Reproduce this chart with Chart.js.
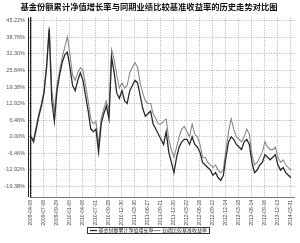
<!DOCTYPE html>
<html>
<head>
<meta charset="utf-8">
<script src="https://cdn.jsdelivr.net/npm/chart.js@4"></script>
<style>
  html, body { margin: 0; padding: 0; background: #fff; }
  #wrap { width: 300px; height: 243px; }
</style>
</head>
<body>
<div id="wrap"><canvas id="myChart" width="300" height="243"></canvas></div>
<script>
// 标题与图例
const chartTitle = '基金份额累计净值增长率与同期业绩比较基准收益率的历史走势对比图';
const fundName = '基金份额累计净值增长率';
const benchName = '业绩比较基准收益率';

// X轴刻度日期（每5个数据点一个）
const tickDates = ['2009-04-09', '2009-07-06', '2009-09-29', '2010-01-05', '2010-04-06',
  '2010-07-01', '2010-09-28', '2010-12-30', '2011-03-30', '2011-06-27', '2011-09-21',
  '2011-12-20', '2012-03-22', '2012-06-18', '2012-09-12', '2012-12-14', '2013-03-18',
  '2013-06-14', '2013-09-16', '2013-12-13', '2014-03-31'];

// Y轴刻度 (%)
const yTicks = [-19.38, -12.92, -6.46, 0.00, 6.46, 12.92, 19.38, 25.84, 32.30, 38.76, 45.22];

// 基金份额累计净值增长率 (%)
const fundValues = [0, -2, 3, 8, 12, 17, 27, 42, 14, 6,
  18, 24, 29, 32, 33, 27, 20, 18, 22, 25,
  22, 16, 10, 3, 2, 3, -6, 5, 9, 12,
  7, 31, 25, 17, 15, 18, 14, 13, 18, 20,
  22, 21, 16, 11, 8, 9, 10, 5, 3, 1,
  -1, -3, 2, -6, -10, -14, -8, -4, -2, -1,
  -1, -3, 0, -3, -4, -6, -10, -11, -12, -13,
  -15, -14, -16, -17, -15, -8, -2, 0, -1, -3,
  -4, -5, -2, -1, -3, -10, -14, -13, -11, -10,
  -7, -8, -9, -8, -7, -11, -13, -12, -14, -15, -16];

// 业绩比较基准收益率 (%)
const benchValues = [0, -1, 4, 9, 13, 18, 28, 43, 18, 10,
  20, 26, 31, 35, 39, 32, 24, 22, 25, 27,
  26, 20, 14, 7, 5, 6, -3, 7, 11, 14,
  10, 34, 30, 24, 19, 21, 19, 20, 25, 27,
  29, 27, 21, 17, 14, 13, 13, 9, 7, 5,
  5, 6, 7, -1, -5, -8, -4, 0, 3, 4,
  2, 0, 5, 1, 0, -3, -8, -8, -10, -11,
  -12, -11, -13, -14, -13, -5, 2, 7, 3, 0,
  -1, -2, 0, 3, 1, -7, -11, -10, -8, -6,
  -2, -4, -5, -5, -4, -8, -10, -9, -11, -12, -13];

const toPoints = arr => arr.map((v, i) => ({ x: i, y: v }));

// 图例外框 + 左侧双线
const extras = {
  id: 'extras',
  afterDraw(chart) {
    const c = chart.ctx;
    const area = chart.chartArea;
    c.save();
    c.strokeStyle = '#222';
    c.lineWidth = 1;
    c.beginPath();
    c.moveTo(Math.round(area.left) - 2.5, area.top);
    c.lineTo(Math.round(area.left) - 2.5, area.bottom);
    c.stroke();
    const lg = chart.legend;
    if (lg && lg.legendHitBoxes.length) {
      const boxes = lg.legendHitBoxes;
      const x0 = boxes[0].left - 4;
      const last = boxes[boxes.length - 1];
      const x1 = last.left + last.width + 2;
      const y0 = boxes[0].top - 1;
      c.strokeStyle = '#333';
      c.strokeRect(Math.round(x0) + 0.5, Math.round(y0) + 0.5, Math.round(x1 - x0), Math.round(boxes[0].height + 1));
    }
    c.restore();
  }
};

const ctx = document.getElementById('myChart');
new Chart(ctx, {
  type: 'line',
  data: {
    datasets: [{
      label: fundName,
      data: toPoints(fundValues),
      borderColor: '#2a2a2a',
      borderWidth: 1.3,
      pointRadius: 0,
      tension: 0
    }, {
      label: benchName,
      data: toPoints(benchValues),
      borderColor: '#8a8a8a',
      borderWidth: 1.1,
      pointRadius: 0,
      tension: 0
    }]
  },
  options: {
    responsive: false,
    animation: false,
    layout: { padding: { left: 2, right: 4, top: 0, bottom: 0 } },
    plugins: {
      title: {
        display: true,
        text: chartTitle,
        color: '#111',
        font: { family: '"Noto Sans CJK SC"', size: 8.3, weight: 'bold' },
        padding: { top: 2, bottom: 5.6 }
      },
      legend: {
        position: 'bottom',
        labels: {
          color: '#222',
          font: { family: '"Noto Sans CJK SC"', size: 5 },
          usePointStyle: true,
          pointStyle: 'line',
          boxWidth: 12,
          padding: 1
        }
      },
      tooltip: { enabled: false }
    },
    scales: {
      x: {
        type: 'linear',
        min: 0,
        max: 101.5,
        afterBuildTicks: scale => {
          scale.ticks = tickDates.map((d, i) => ({ value: i * 5 }));
        },
        afterFit: scale => { scale.height = 30; },
        ticks: {
          autoSkip: false,
          minRotation: 90,
          maxRotation: 90,
          padding: 3,
          color: '#444',
          font: { family: 'Arial, "Liberation Sans"', size: 5 },
          callback: v => tickDates[Math.round(v / 5)]
        },
        grid: {
          color: '#9a9a9a',
          lineWidth: 0.8,
          drawTicks: false
        },
        border: { display: true, color: '#777', width: 1, dash: [1, 1.5] }
      },
      y: {
        min: -23.5,
        max: 46.5,
        afterBuildTicks: scale => {
          scale.ticks = yTicks.map(v => ({ value: v }));
        },
        afterFit: scale => { scale.width = 29; },
        ticks: {
          padding: 4,
          color: '#555',
          font: { family: 'Arial, "Liberation Sans"', size: 5.5 },
          callback: v => v.toFixed(2) + '%'
        },
        grid: {
          color: '#9a9a9a',
          lineWidth: 0.8,
          drawTicks: true,
          tickLength: 2
        },
        border: { color: '#222', width: 1.2, dash: [1, 1.5] }
      }
    }
  },
  plugins: [extras]
});
</script>
</body>
</html>
